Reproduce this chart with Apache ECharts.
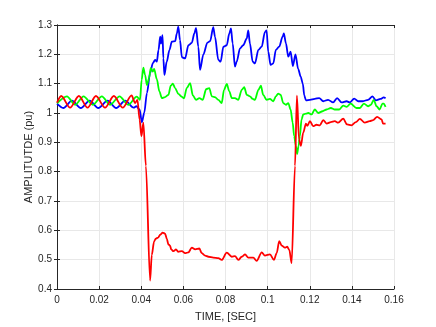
<!DOCTYPE html>
<html>
<head>
<meta charset="utf-8">
<script src="https://cdn.jsdelivr.net/npm/echarts@6/dist/echarts.min.js"></script>
<style>
  html, body { margin: 0; padding: 0; background: #fff; }
  #chart { width: 436px; height: 327px; }
</style>
</head>
<body>
<div id="chart"></div>
<script>
// values (time in s, amplitude in pu)
const redT = [0, 0.0020, 0.0062, 0.0104, 0.0145, 0.0185, 0.0228, 0.0270, 0.0312, 0.0354,
  0.0371, 0.0382, 0.0392, 0.0401, 0.0410, 0.0422, 0.0442, 0.0450, 0.0461, 0.0469,
  0.0480, 0.0490, 0.0502, 0.0513, 0.0521, 0.0529, 0.0537, 0.0542, 0.0553, 0.0565,
  0.0575, 0.0593, 0.0608, 0.0624, 0.0640, 0.0656, 0.0676, 0.0687, 0.0703, 0.0719,
  0.0742, 0.0766, 0.0782, 0.0806, 0.0830, 0.0845, 0.0861, 0.0877, 0.0893, 0.0908,
  0.0932, 0.0948, 0.0972, 0.0987, 0.1011, 0.1030, 0.1043, 0.1055, 0.1067, 0.1082,
  0.1093, 0.1103, 0.1114, 0.1130, 0.1139, 0.1149, 0.1158, 0.1169, 0.1182, 0.1188,
  0.1201, 0.1216, 0.1232, 0.1248, 0.1264, 0.1280, 0.1300, 0.1319, 0.1335, 0.1359,
  0.1377, 0.1398, 0.1419, 0.1438, 0.1461, 0.1485, 0.1501, 0.1520, 0.1541, 0.1548, 0.1560];
const redV = [1.035, 1.058, 1.018, 1.058, 1.018, 1.058, 1.018, 1.058, 1.018, 1.060,
  1.034, 1.045, 0.978, 0.921, 0.967, 0.820, 0.429, 0.516, 0.562, 0.572,
  0.575, 0.585, 0.592, 0.589, 0.572, 0.552, 0.548, 0.535, 0.529, 0.535,
  0.527, 0.529, 0.522, 0.525, 0.541, 0.535, 0.538, 0.522, 0.514, 0.510,
  0.507, 0.505, 0.499, 0.524, 0.510, 0.512, 0.499, 0.510, 0.518, 0.507,
  0.507, 0.496, 0.525, 0.514, 0.518, 0.499, 0.522, 0.563, 0.548, 0.541,
  0.544, 0.533, 0.488, 0.820, 1.059, 0.910, 0.888, 0.933, 0.964, 0.956,
  0.972, 0.955, 0.960, 0.958, 0.976, 0.964, 0.969, 0.972, 0.967, 0.981,
  0.961, 0.958, 0.969, 0.980, 0.967, 0.972, 0.976, 0.987, 0.978, 0.964, 0.964];

const blueT = [0, 0.0030, 0.0071, 0.0113, 0.0155, 0.0196, 0.0240, 0.0281, 0.0324, 0.0364,
  0.0377, 0.0392, 0.0403, 0.0414, 0.0427, 0.0442, 0.0455, 0.0466, 0.0474, 0.0482,
  0.0490, 0.0494, 0.0501, 0.0505, 0.0510, 0.0521, 0.0534, 0.0545, 0.0561, 0.0569,
  0.0576, 0.0584, 0.0593, 0.0608, 0.0624, 0.0640, 0.0652, 0.0660, 0.0671, 0.0679,
  0.0695, 0.0714, 0.0727, 0.0742, 0.0750, 0.0766, 0.0777, 0.0790, 0.0806, 0.0818,
  0.0826, 0.0834, 0.0845, 0.0853, 0.0869, 0.0884, 0.0901, 0.0908, 0.0916, 0.0929,
  0.0940, 0.0956, 0.0972, 0.0987, 0.0995, 0.1003, 0.1014, 0.1027, 0.1039, 0.1055,
  0.1071, 0.1077, 0.1087, 0.1098, 0.1109, 0.1120, 0.1132, 0.1145, 0.1157, 0.1167,
  0.1174, 0.1182, 0.1201, 0.1224, 0.1245, 0.1264, 0.1287, 0.1311, 0.1330, 0.1351,
  0.1375, 0.1390, 0.1411, 0.1430, 0.1452, 0.1477, 0.1498, 0.1514, 0.1536, 0.1551, 0.1560];
const blueV = [1.032, 1.017, 1.042, 1.017, 1.042, 1.017, 1.042, 1.017, 1.042, 1.018,
  1.023, 1.012, 0.968, 1.000, 1.068, 1.136, 1.170, 1.181, 1.175, 1.215,
  1.260, 1.237, 1.265, 1.186, 1.130, 1.175, 1.215, 1.243, 1.245, 1.271,
  1.294, 1.248, 1.190, 1.186, 1.231, 1.239, 1.271, 1.290, 1.226, 1.147,
  1.200, 1.240, 1.245, 1.293, 1.260, 1.181, 1.175, 1.226, 1.231, 1.271,
  1.288, 1.237, 1.158, 1.175, 1.220, 1.231, 1.254, 1.282, 1.237, 1.175,
  1.169, 1.215, 1.226, 1.276, 1.282, 1.209, 1.164, 1.169, 1.215, 1.226,
  1.260, 1.271, 1.237, 1.192, 1.209, 1.160, 1.200, 1.150, 1.124, 1.100,
  1.060, 1.043, 1.045, 1.048, 1.051, 1.040, 1.045, 1.036, 1.051, 1.036,
  1.040, 1.036, 1.049, 1.040, 1.040, 1.045, 1.057, 1.043, 1.048, 1.053, 1.050];

const greenT = [0, 0.0047, 0.0086, 0.0126, 0.0170, 0.0213, 0.0252, 0.0297, 0.0338, 0.0379,
  0.0394, 0.0402, 0.0410, 0.0418, 0.0427, 0.0437, 0.0445, 0.0455, 0.0461, 0.0474,
  0.0486, 0.0498, 0.0513, 0.0529, 0.0540, 0.0550, 0.0561, 0.0576, 0.0593, 0.0603,
  0.0616, 0.0632, 0.0645, 0.0660, 0.0676, 0.0692, 0.0708, 0.0723, 0.0735, 0.0750,
  0.0766, 0.0782, 0.0793, 0.0806, 0.0818, 0.0830, 0.0845, 0.0861, 0.0877, 0.0889,
  0.0901, 0.0916, 0.0929, 0.0940, 0.0956, 0.0968, 0.0979, 0.0995, 0.1011, 0.1027,
  0.1039, 0.1050, 0.1062, 0.1074, 0.1087, 0.1098, 0.1109, 0.1119, 0.1126, 0.1134,
  0.1140, 0.1147, 0.1153, 0.1161, 0.1169, 0.1182, 0.1193, 0.1209, 0.1224, 0.1240,
  0.1261, 0.1280, 0.1300, 0.1319, 0.1340, 0.1359, 0.1375, 0.1394, 0.1422, 0.1438,
  0.1457, 0.1477, 0.1490, 0.1504, 0.1517, 0.1532, 0.1545, 0.1551, 0.1560];
const greenV = [1.033, 1.057, 1.028, 1.057, 1.028, 1.057, 1.028, 1.057, 1.028, 1.056,
  1.045, 1.113, 1.155, 1.130, 1.095, 1.119, 1.153, 1.141, 1.150, 1.115,
  1.074, 1.051, 1.054, 1.062, 1.093, 1.100, 1.085, 1.065, 1.055, 1.050,
  1.085, 1.102, 1.060, 1.045, 1.051, 1.045, 1.081, 1.085, 1.057, 1.054,
  1.045, 1.034, 1.079, 1.099, 1.074, 1.051, 1.051, 1.045, 1.079, 1.088,
  1.062, 1.057, 1.048, 1.045, 1.079, 1.093, 1.062, 1.045, 1.048, 1.040,
  1.057, 1.066, 1.062, 1.034, 1.028, 1.034, 1.012, 0.967, 0.921, 0.888,
  0.860, 0.888, 0.921, 0.978, 0.995, 0.998, 1.000, 0.995, 1.012, 1.000,
  1.006, 1.012, 1.017, 1.012, 1.012, 1.025, 1.021, 1.032, 1.017, 1.017,
  1.032, 1.023, 1.028, 1.045, 1.023, 1.012, 1.032, 1.032, 1.021];

const axisColor = '#262626';
const gridColor = '#e8e8e8';
const font = 'Liberation Sans, Arial, sans-serif';

function zip(ts, vs) {
  return ts.map((t, i) => [t, vs[i]]);
}

const chart = echarts.init(document.getElementById('chart'));

const lineSeries = (name, color, ts, vs) => ({
  name,
  type: 'line',
  xAxisIndex: 0,
  yAxisIndex: 0,
  showSymbol: false,
  silent: true,
  smooth: 0.3,
  smoothMonotone: 'x',
  lineStyle: { color, width: 1.8 },
  data: zip(ts, vs),
});

chart.setOption({
  animation: false,
  grid: { left: 57, right: 42, top: 25, bottom: 36, containLabel: false },
  xAxis: [{
    type: 'value',
    min: 0,
    max: 0.16,
    interval: 0.02,
    name: 'TIME, [SEC]',
    nameLocation: 'middle',
    nameGap: 22,
    nameMoveOverlap: false,
    nameTextStyle: { color: axisColor, fontSize: 11, fontFamily: font },
    axisLine: { show: true, lineStyle: { color: axisColor, width: 1 } },
    axisTick: { show: true, inside: true, length: 3, lineStyle: { color: axisColor } },
    axisLabel: { color: axisColor, fontSize: 10, fontFamily: font, margin: 6 },
    splitLine: { show: true, lineStyle: { color: gridColor, width: 1 } },
  }, {
    type: 'value',
    position: 'top',
    min: 0,
    max: 0.16,
    interval: 0.02,
    axisLine: { show: true, lineStyle: { color: axisColor, width: 1 } },
    axisTick: { show: true, inside: true, length: 3, lineStyle: { color: axisColor } },
    axisLabel: { show: false },
    splitLine: { show: false },
  }],
  yAxis: [{
    type: 'value',
    min: 0.4,
    max: 1.3,
    interval: 0.1,
    name: 'AMPLITUTDE (pu)',
    nameLocation: 'middle',
    nameGap: 23,
    nameMoveOverlap: false,
    nameTextStyle: { color: axisColor, fontSize: 11, fontFamily: font },
    axisLine: { show: true, lineStyle: { color: axisColor, width: 1 } },
    axisTick: { show: true, inside: true, length: 3, lineStyle: { color: axisColor } },
    axisLabel: { color: axisColor, fontSize: 10, fontFamily: font, margin: 5 },
    splitLine: { show: true, lineStyle: { color: gridColor, width: 1 } },
  }, {
    type: 'value',
    position: 'right',
    min: 0.4,
    max: 1.3,
    interval: 0.1,
    axisLine: { show: true, lineStyle: { color: axisColor, width: 1 } },
    axisTick: { show: true, inside: true, length: 3, lineStyle: { color: axisColor } },
    axisLabel: { show: false },
    splitLine: { show: false },
  }],
  series: [
    lineSeries('blue', '#0000ff', blueT, blueV),
    lineSeries('green', '#00ff00', greenT, greenV),
    lineSeries('red', '#ff0000', redT, redV),
  ],
});
</script>
</body>
</html>
